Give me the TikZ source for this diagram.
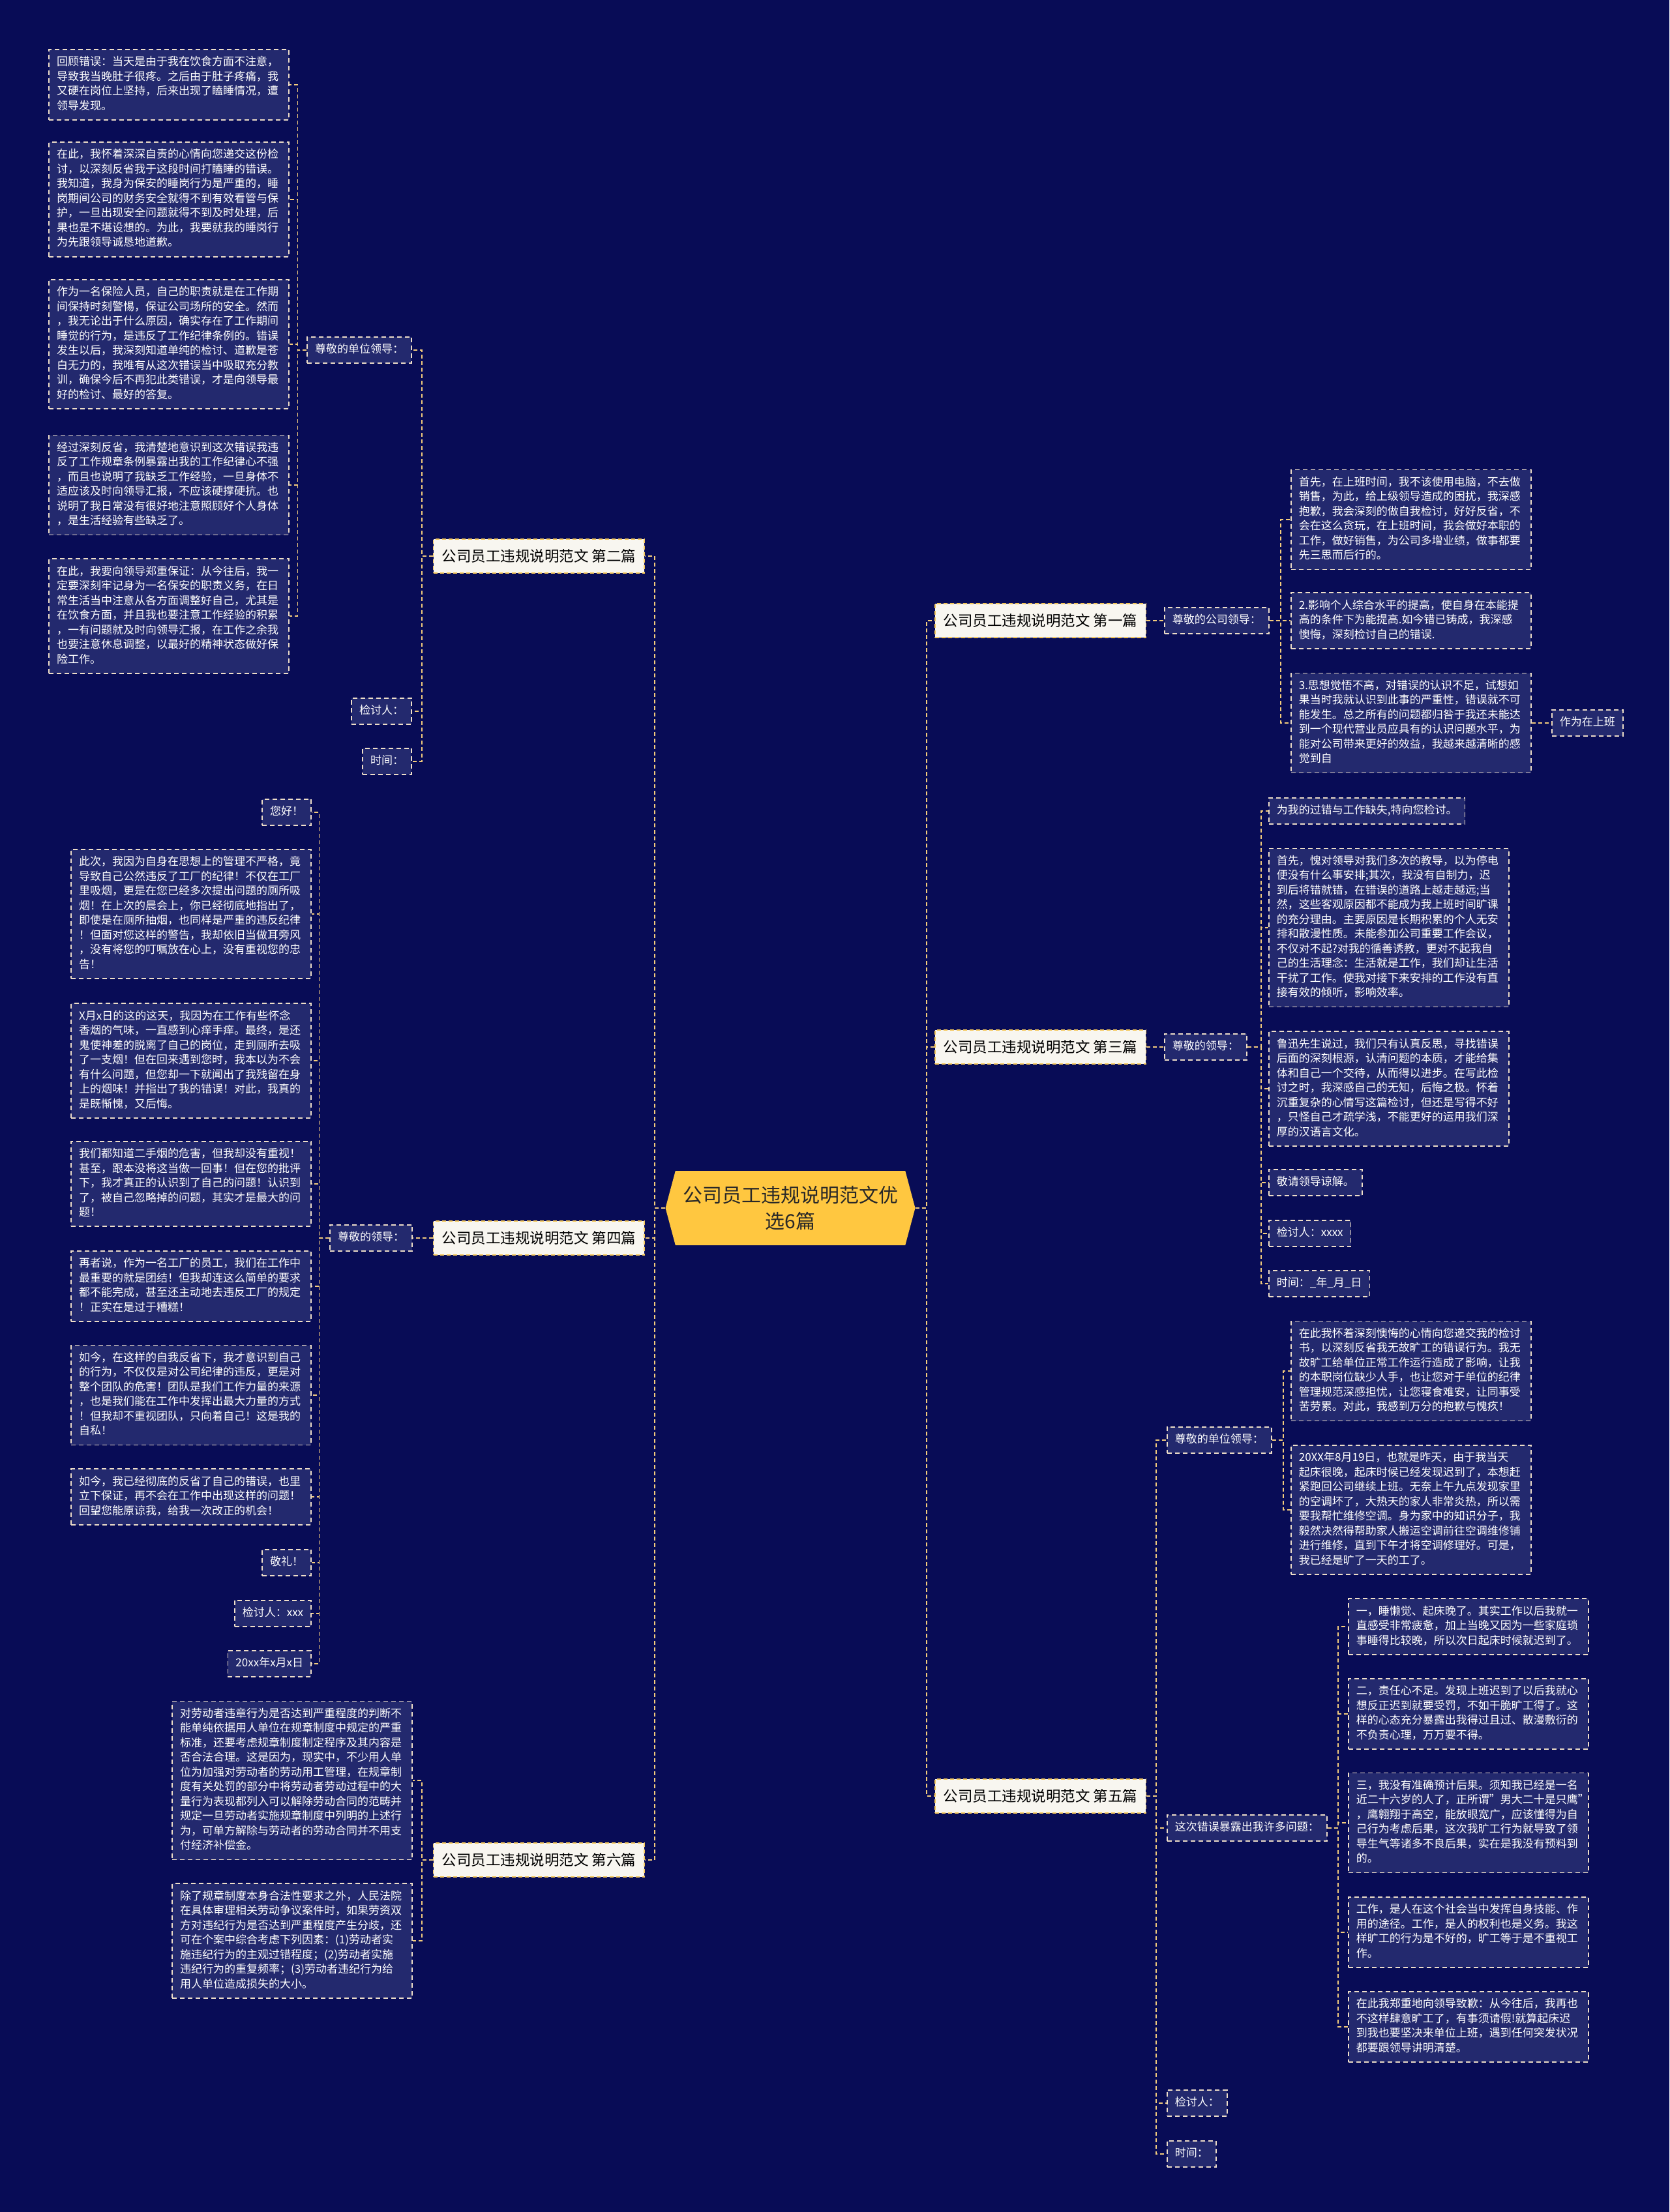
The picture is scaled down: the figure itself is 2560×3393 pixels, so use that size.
\documentclass[tikz,border=0pt]{standalone}
\usepackage{fontspec}
\setmainfont{Noto Sans CJK SC}
\usepackage{xcolor}
\usetikzlibrary{shapes.symbols}
\definecolor{nightblue}{RGB}{8,12,86}
\definecolor{boxnavy}{RGB}{35,41,110}
\definecolor{edgecream}{RGB}{238,222,200}
\definecolor{linkgold}{RGB}{244,205,125}
\definecolor{branchgold}{RGB}{245,200,90}
\definecolor{paperwhite}{RGB}{248,246,240}
\definecolor{topicgold}{RGB}{255,199,64}
\definecolor{inkgrey}{RGB}{40,40,40}

\begin{document}
\begin{tikzpicture}[
    x=1pt, y=-1pt,
    every node/.style={font=\fontsize{17}{22.5}\selectfont},
    topic/.style={signal, signal to=east and west, signal pointer angle=150,
                  fill=topicgold, minimum width=383pt, minimum height=114pt,
                  text=inkgrey, align=center, inner sep=0pt, font=\fontsize{30}{40}\selectfont},
    branch/.style={rectangle, draw=branchgold, dash pattern=on 6pt off 4pt, line width=1.6pt,
                   fill=paperwhite, text=black, minimum height=52pt, inner xsep=13pt,
                   font=\fontsize{22.5}{27}\selectfont},
    cue/.style={rectangle, draw=edgecream, dash pattern=on 7pt off 5pt, line width=1.6pt,
                fill=boxnavy, text=white, inner xsep=12pt, inner ysep=9pt,
                execute at begin node=\strut, execute at end node=\strut},
    para/.style={cue, text width=344pt, align=left},
    link/.style={draw=linkgold, dash pattern=on 6pt off 4pt, line width=1.8pt}
]
\fill[nightblue] (0,0) rectangle (2560,3393);
\useasboundingbox (0,0) rectangle (2560,3393);

% Title and parts
\node[topic] (title) at (1212,1853) {公司员工违规说明范文优\\选6篇};
\node[branch, anchor=east] (part2) at (989,853) {公司员工违规说明范文 第二篇};
\node[branch, anchor=east] (part4) at (989,1899) {公司员工违规说明范文 第四篇};
\node[branch, anchor=east] (part6) at (989,2853) {公司员工违规说明范文 第六篇};
\node[branch, anchor=west] (part1) at (1433,952) {公司员工违规说明范文 第一篇};
\node[branch, anchor=west] (part3) at (1433,1606) {公司员工违规说明范文 第三篇};
\node[branch, anchor=west] (part5) at (1433,2755) {公司员工违规说明范文 第五篇};

% Part 2
\node[cue, anchor=east] (part2lead) at (632,537) {尊敬的单位领导：};
\node[cue, anchor=east] (part2sign) at (632,1091) {检讨人：};
\node[cue, anchor=east] (part2date) at (632,1168) {时间：};
\node[para, anchor=east] (part2a) at (444,130) {回顾错误：当天是由于我在饮食方面不注意，\\导致我当晚肚子很疼。之后由于肚子疼痛，我\\又硬在岗位上坚持，后来出现了瞌睡情况，遭\\领导发现。};
\node[para, anchor=east] (part2b) at (444,306) {在此，我怀着深深自责的心情向您递交这份检\\讨，以深刻反省我于这段时间打瞌睡的错误。\\我知道，我身为保安的睡岗行为是严重的，睡\\岗期间公司的财务安全就得不到有效看管与保\\护，一旦出现安全问题就得不到及时处理，后\\果也是不堪设想的。为此，我要就我的睡岗行\\为先跟领导诚恳地道歉。};
\node[para, anchor=east] (part2c) at (444,528) {作为一名保险人员，自己的职责就是在工作期\\间保持时刻警惕，保证公司场所的安全。然而\\，我无论出于什么原因，确实存在了工作期间\\睡觉的行为，是违反了工作纪律条例的。错误\\发生以后，我深刻知道单纯的检讨、道歉是苍\\白无力的，我唯有从这次错误当中吸取充分教\\训，确保今后不再犯此类错误，才是向领导最\\好的检讨、最好的答复。};
\node[para, anchor=east] (part2d) at (444,744) {经过深刻反省，我清楚地意识到这次错误我违\\反了工作规章条例暴露出我的工作纪律心不强\\，而且也说明了我缺乏工作经验，一旦身体不\\适应该及时向领导汇报，不应该硬撑硬抗。也\\说明了我日常没有很好地注意照顾好个人身体\\，是生活经验有些缺乏了。};
\node[para, anchor=east] (part2e) at (444,945) {在此，我要向领导郑重保证：从今往后，我一\\定要深刻牢记身为一名保安的职责义务，在日\\常生活当中注意从各方面调整好自己，尤其是\\在饮食方面，并且我也要注意工作经验的积累\\，一有问题就及时向领导汇报，在工作之余我\\也要注意休息调整，以最好的精神状态做好保\\险工作。};

% Part 4
\node[cue, anchor=east] (part4lead) at (633,1899) {尊敬的领导：};
\node[cue, anchor=east] (part4a) at (478,1246) {您好！};
\node[para, anchor=east] (part4b) at (478,1402) {此次，我因为自身在思想上的管理不严格，竟\\导致自己公然违反了工厂的纪律！不仅在工厂\\里吸烟，更是在您已经多次提出问题的厕所吸\\烟！在上次的晨会上，你已经彻底地指出了，\\即使是在厕所抽烟，也同样是严重的违反纪律\\！但面对您这样的警告，我却依旧当做耳旁风\\，没有将您的叮嘱放在心上，没有重视您的忠\\告！};
\node[para, anchor=east] (part4c) at (478,1627) {X月x日的这的这天，我因为在工作有些怀念\\香烟的气味，一直感到心痒手痒。最终，是还\\鬼使神差的脱离了自己的岗位，走到厕所去吸\\了一支烟！但在回来遇到您时，我本以为不会\\有什么问题，但您却一下就闻出了我残留在身\\上的烟味！并指出了我的错误！对此，我真的\\是既惭愧，又后悔。};
\node[para, anchor=east] (part4d) at (478,1816) {我们都知道二手烟的危害，但我却没有重视！\\甚至，跟本没将这当做一回事！但在您的批评\\下，我才真正的认识到了自己的问题！认识到\\了，被自己忽略掉的问题，其实才是最大的问\\题！};
\node[para, anchor=east] (part4e) at (478,1973) {再者说，作为一名工厂的员工，我们在工作中\\最重要的就是团结！但我却连这么简单的要求\\都不能完成，甚至还主动地去违反工厂的规定\\！正实在是过于糟糕！};
\node[para, anchor=east] (part4f) at (478,2140) {如今，在这样的自我反省下，我才意识到自己\\的行为，不仅仅是对公司纪律的违反，更是对\\整个团队的危害！团队是我们工作力量的来源\\，也是我们能在工作中发挥出最大力量的方式\\！但我却不重视团队，只向着自己！这是我的\\自私！};
\node[para, anchor=east] (part4g) at (478,2296) {如今，我已经彻底的反省了自己的错误，也里\\立下保证，再不会在工作中出现这样的问题！\\回望您能原谅我，给我一次改正的机会！};
\node[cue, anchor=east] (part4h) at (478,2397) {敬礼！};
\node[cue, anchor=east] (part4i) at (478,2475) {检讨人：xxx};
\node[cue, anchor=east] (part4j) at (478,2552) {20xx年x月x日};

% Part 6
\node[para, anchor=east] (part6a) at (633,2731) {对劳动者违章行为是否达到严重程度的判断不\\能单纯依据用人单位在规章制度中规定的严重\\标准，还要考虑规章制度制定程序及其内容是\\否合法合理。这是因为，现实中，不少用人单\\位为加强对劳动者的劳动用工管理，在规章制\\度有关处罚的部分中将劳动者劳动过程中的大\\量行为表现都列入可以解除劳动合同的范畴并\\规定一旦劳动者实施规章制度中列明的上述行\\为，可单方解除与劳动者的劳动合同并不用支\\付经济补偿金。};
\node[para, anchor=east] (part6b) at (633,2977) {除了规章制度本身合法性要求之外，人民法院\\在具体审理相关劳动争议案件时，如果劳资双\\方对违纪行为是否达到严重程度产生分歧，还\\可在个案中综合考虑下列因素：(1)劳动者实\\施违纪行为的主观过错程度；(2)劳动者实施\\违纪行为的重复频率；(3)劳动者违纪行为给\\用人单位造成损失的大小。};

% Part 1
\node[cue, anchor=west] (part1lead) at (1785,952) {尊敬的公司领导：};
\node[para, anchor=west] (part1a) at (1979,797) {首先，在上班时间，我不该使用电脑，不去做\\销售，为此，给上级领导造成的困扰，我深感\\抱歉，我会深刻的做自我检讨，好好反省，不\\会在这么贪玩，在上班时间，我会做好本职的\\工作，做好销售，为公司多增业绩，做事都要\\先三思而后行的。};
\node[para, anchor=west] (part1b) at (1979,952) {2.影响个人综合水平的提高，使自身在本能提\\高的条件下为能提高.如今错已铸成，我深感\\懊悔，深刻检讨自己的错误.};
\node[para, anchor=west] (part1c) at (1979,1109) {3.思想觉悟不高，对错误的认识不足，试想如\\果当时我就认识到此事的严重性，错误就不可\\能发生。总之所有的问题都归咎于我还未能达\\到一个现代营业员应具有的认识问题水平，为\\能对公司带来更好的效益，我越来越清晰的感\\觉到自};
\node[cue, anchor=west] (part1note) at (2379,1109) {作为在上班};

% Part 3
\node[cue, anchor=west] (part3lead) at (1785,1606) {尊敬的领导：};
\node[cue, anchor=west] (part3a) at (1945,1244) {为我的过错与工作缺失,特向您检讨。};
\node[para, anchor=west] (part3b) at (1945,1423) {首先，愧对领导对我们多次的教导，以为停电\\便没有什么事安排;其次，我没有自制力，迟\\到后将错就错，在错误的道路上越走越远;当\\然，这些客观原因都不能成为我上班时间旷课\\的充分理由。主要原因是长期积累的个人无安\\排和散漫性质。未能参加公司重要工作会议，\\不仅对不起?对我的循善诱教，更对不起我自\\己的生活理念：生活就是工作，我们却让生活\\干扰了工作。使我对接下来安排的工作没有直\\接有效的倾听，影响效率。};
\node[para, anchor=west] (part3c) at (1945,1670) {鲁迅先生说过，我们只有认真反思，寻找错误\\后面的深刻根源，认清问题的本质，才能给集\\体和自己一个交待，从而得以进步。在写此检\\讨之时，我深感自己的无知，后悔之极。怀着\\沉重复杂的心情写这篇检讨，但还是写得不好\\，只怪自己才疏学浅，不能更好的运用我们深\\厚的汉语言文化。};
\node[cue, anchor=west] (part3d) at (1945,1814) {敬请领导谅解。};
\node[cue, anchor=west] (part3e) at (1945,1892) {检讨人：xxxx};
\node[cue, anchor=west] (part3f) at (1945,1969) {时间：\_年\_月\_日};

% Part 5
\node[cue, anchor=west] (part5lead) at (1789,2209) {尊敬的单位领导：};
\node[para, anchor=west] (part5a) at (1979,2103) {在此我怀着深刻懊悔的心情向您递交我的检讨\\书，以深刻反省我无故旷工的错误行为。我无\\故旷工给单位正常工作运行造成了影响，让我\\的本职岗位缺少人手，也让您对于单位的纪律\\管理规范深感担忧，让您寝食难安，让同事受\\苦劳累。对此，我感到万分的抱歉与愧疚！};
\node[para, anchor=west] (part5b) at (1979,2316) {20XX年8月19日，也就是昨天，由于我当天\\起床很晚，起床时候已经发现迟到了，本想赶\\紧跑回公司继续上班。无奈上午九点发现家里\\的空调坏了，大热天的家人非常炎热，所以需\\要我帮忙维修空调。身为家中的知识分子，我\\毅然决然得帮助家人搬运空调前往空调维修铺\\进行维修，直到下午才将空调修理好。可是，\\我已经是旷了一天的工了。};
\node[cue, anchor=west] (part5issue) at (1789,2804) {这次错误暴露出我许多问题：};
\node[para, anchor=west] (part5c) at (2067,2495) {一，睡懒觉、起床晚了。其实工作以后我就一\\直感受非常疲惫，加上当晚又因为一些家庭琐\\事睡得比较晚，所以次日起床时候就迟到了。};
\node[para, anchor=west] (part5d) at (2067,2629) {二，责任心不足。发现上班迟到了以后我就心\\想反正迟到就要受罚，不如干脆旷工得了。这\\样的心态充分暴露出我得过且过、散漫敷衍的\\不负责心理，万万要不得。};
\node[para, anchor=west] (part5e) at (2067,2796) {三，我没有准确预计后果。须知我已经是一名\\近二十六岁的人了，正所谓"男大二十是只鹰"\\，鹰翱翔于高空，能放眼宽广，应该懂得为自\\己行为考虑后果，这次我旷工行为就导致了领\\导生气等诸多不良后果，实在是我没有预料到\\的。};
\node[para, anchor=west] (part5f) at (2067,2964) {工作，是人在这个社会当中发挥自身技能、作\\用的途径。工作，是人的权利也是义务。我这\\样旷工的行为是不好的，旷工等于是不重视工\\作。};
\node[para, anchor=west] (part5g) at (2067,3109) {在此我郑重地向领导致歉：从今往后，我再也\\不这样肆意旷工了，有事须请假!就算起床迟\\到我也要坚决来单位上班，遇到任何突发状况\\都要跟领导讲明清楚。};
\node[cue, anchor=west] (part5sign) at (1789,3226) {检讨人：};
\node[cue, anchor=west] (part5date) at (1789,3304) {时间：};

% Links from the title
\draw[link] (title.west) -- ++(-16,0) |- (part2.east);
\draw[link] (title.west) -- ++(-16,0) |- (part4.east);
\draw[link] (title.west) -- ++(-16,0) |- (part6.east);
\draw[link] (title.east) -- ++(17,0) |- (part1.west);
\draw[link] (title.east) -- ++(17,0) |- (part3.west);
\draw[link] (title.east) -- ++(17,0) |- (part5.west);

% Links of part 2
\draw[link] (part2.west) -- ++(-17,0) |- (part2lead.east);
\draw[link] (part2.west) -- ++(-17,0) |- (part2sign.east);
\draw[link] (part2.west) -- ++(-17,0) |- (part2date.east);
\draw[link] (part2lead.west) -- ++(-14,0) |- (part2a.east);
\draw[link] (part2lead.west) -- ++(-14,0) |- (part2b.east);
\draw[link] (part2lead.west) -- ++(-14,0) |- (part2c.east);
\draw[link] (part2lead.west) -- ++(-14,0) |- (part2d.east);
\draw[link] (part2lead.west) -- ++(-14,0) |- (part2e.east);

% Links of part 4
\draw[link] (part4.west) -- (part4lead.east);
\draw[link] (part4lead.west) -- ++(-16,0) |- (part4a.east);
\draw[link] (part4lead.west) -- ++(-16,0) |- (part4b.east);
\draw[link] (part4lead.west) -- ++(-16,0) |- (part4c.east);
\draw[link] (part4lead.west) -- ++(-16,0) |- (part4d.east);
\draw[link] (part4lead.west) -- ++(-16,0) |- (part4e.east);
\draw[link] (part4lead.west) -- ++(-16,0) |- (part4f.east);
\draw[link] (part4lead.west) -- ++(-16,0) |- (part4g.east);
\draw[link] (part4lead.west) -- ++(-16,0) |- (part4h.east);
\draw[link] (part4lead.west) -- ++(-16,0) |- (part4i.east);
\draw[link] (part4lead.west) -- ++(-16,0) |- (part4j.east);

% Links of part 6
\draw[link] (part6.west) -- ++(-17,0) |- (part6a.east);
\draw[link] (part6.west) -- ++(-17,0) |- (part6b.east);

% Links of part 1
\draw[link] (part1.east) -- (part1lead.west);
\draw[link] (part1lead.east) -- ++(17,0) |- (part1a.west);
\draw[link] (part1lead.east) -- ++(17,0) |- (part1b.west);
\draw[link] (part1lead.east) -- ++(17,0) |- (part1c.west);
\draw[link] (part1c.east) -- (part1note.west);

% Links of part 3
\draw[link] (part3.east) -- (part3lead.west);
\draw[link] (part3lead.east) -- ++(21,0) |- (part3a.west);
\draw[link] (part3lead.east) -- ++(21,0) |- (part3b.west);
\draw[link] (part3lead.east) -- ++(21,0) |- (part3c.west);
\draw[link] (part3lead.east) -- ++(21,0) |- (part3d.west);
\draw[link] (part3lead.east) -- ++(21,0) |- (part3e.west);
\draw[link] (part3lead.east) -- ++(21,0) |- (part3f.west);

% Links of part 5
\draw[link] (part5.east) -- ++(15,0) |- (part5lead.west);
\draw[link] (part5.east) -- ++(15,0) |- (part5issue.west);
\draw[link] (part5.east) -- ++(15,0) |- (part5sign.west);
\draw[link] (part5.east) -- ++(15,0) |- (part5date.west);
\draw[link] (part5lead.east) -- ++(17,0) |- (part5a.west);
\draw[link] (part5lead.east) -- ++(17,0) |- (part5b.west);
\draw[link] (part5issue.east) -- ++(16,0) |- (part5c.west);
\draw[link] (part5issue.east) -- ++(16,0) |- (part5d.west);
\draw[link] (part5issue.east) -- ++(16,0) |- (part5e.west);
\draw[link] (part5issue.east) -- ++(16,0) |- (part5f.west);
\draw[link] (part5issue.east) -- ++(16,0) |- (part5g.west);

\end{tikzpicture}
\end{document}
